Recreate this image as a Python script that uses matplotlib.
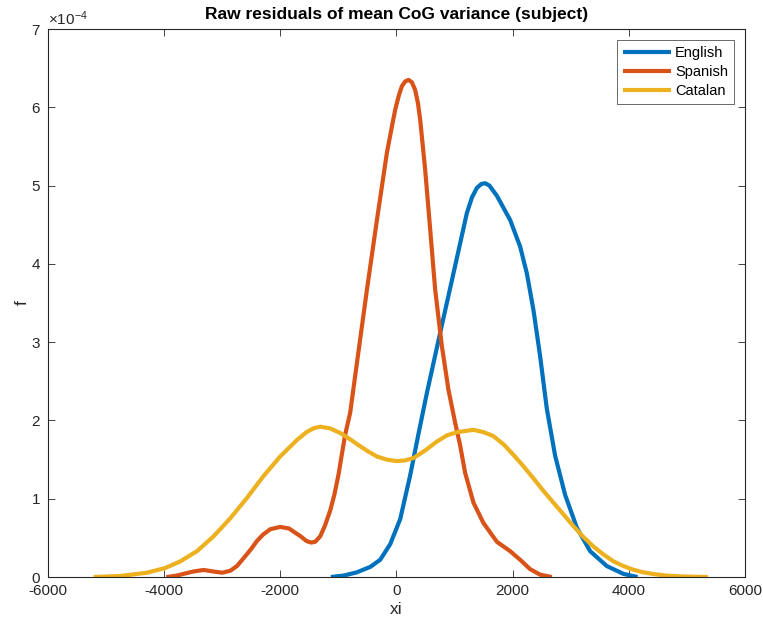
import matplotlib
matplotlib.use("Agg")
import matplotlib.pyplot as plt
from matplotlib.ticker import ScalarFormatter

plt.rcParams['font.family'] = ['Liberation Sans', 'DejaVu Sans']
plt.rcParams['mathtext.fontset'] = 'custom'
plt.rcParams['mathtext.rm'] = 'Liberation Sans'
plt.rcParams['mathtext.it'] = 'Liberation Sans:italic'
plt.rcParams['axes.unicode_minus'] = False

# English (blue) -- values of f in units of 1e-4
english_x = [-1130, -900, -682, -450, -281, -108, 64, 236, 379, 523, 752, 981, 1212, 1300, 1384,
             1460, 1527, 1600, 1728, 1957, 2129, 2244, 2358, 2473, 2588, 2731, 2903, 3105, 3334,
             3621, 3907, 4150]
english_f = [0.0, 0.02, 0.06, 0.13, 0.22, 0.42, 0.74, 1.30, 1.83, 2.35, 3.12, 3.88, 4.65, 4.85, 4.97,
             5.02, 5.03, 5.00, 4.87, 4.56, 4.22, 3.88, 3.41, 2.82, 2.15, 1.55, 1.05, 0.63, 0.33,
             0.14, 0.04, 0.0]
english_f = [v * 1e-4 for v in english_f]

# Spanish (orange)
spanish_x = [-3963, -3800, -3666, -3500, -3322, -3150, -3000, -2862, -2747, -2633, -2500, -2403,
             -2300, -2174, -2002, -1850, -1773, -1650, -1550, -1470, -1400, -1313, -1230, -1141,
             -1070, -998, -940, -883, -797, -682, -509, -337, -165, -80, -22, 40, 93, 150, 207, 265,
             322, 370, 408, 494, 580, 666, 781, 895, 1010, 1096, 1182, 1325, 1497, 1728, 1957, 2129,
             2301, 2473, 2674]
spanish_f = [0.0, 0.015, 0.04, 0.07, 0.09, 0.07, 0.055, 0.08, 0.14, 0.24, 0.36, 0.46,
             0.54, 0.61, 0.64, 0.62, 0.58, 0.52, 0.46, 0.44, 0.45, 0.52, 0.66, 0.85,
             1.05, 1.31, 1.57, 1.82, 2.10, 2.73, 3.67, 4.56, 5.42, 5.75, 5.97, 6.15, 6.27, 6.33, 6.35,
             6.32, 6.22, 6.05, 5.84, 5.20, 4.44, 3.67, 2.95, 2.39, 1.97, 1.68, 1.33, 0.95, 0.69, 0.45,
             0.33, 0.22, 0.10, 0.03, 0.0]
spanish_f = [v * 1e-4 for v in spanish_f]

# Catalan (yellow)
catalan_x = [-5215, -4755, -4296, -3981, -3722, -3435, -3149, -2862, -2575, -2289, -2002, -1714,
             -1550, -1428, -1313, -1150, -969, -800, -625, -480, -337, -170, 7, 150, 293, 500,
             695, 870, 1040, 1325, 1500, 1669, 1850, 2014, 2180, 2358, 2530, 2702, 2875, 3046,
             3220, 3390, 3560, 3735, 3907, 4079, 4250, 4423, 4650, 4882, 5360]
catalan_f = [0.0, 0.013, 0.055, 0.115, 0.20, 0.33, 0.52, 0.75, 1.01, 1.29, 1.54, 1.75,
             1.85, 1.90, 1.92, 1.90, 1.84, 1.76, 1.67, 1.60, 1.54, 1.50, 1.48, 1.49, 1.52, 1.62,
             1.73, 1.81, 1.85, 1.88, 1.85, 1.80, 1.69, 1.56, 1.42, 1.26, 1.10, 0.95, 0.80, 0.65,
             0.51, 0.39, 0.29, 0.20, 0.14, 0.093, 0.06, 0.038, 0.018, 0.008, 0.0]
catalan_f = [v * 1e-4 for v in catalan_f]

series_names = ['English', 'Spanish', 'Catalan']
colors = ['#0072BD', '#D95319', '#EDB120']

fig = plt.figure(figsize=(7.63, 6.24), dpi=100)
ax = fig.add_axes([0.0629, 0.0753, 0.9135, 0.8782])

for (xs, fs), name, c in zip([(english_x, english_f), (spanish_x, spanish_f), (catalan_x, catalan_f)],
                             series_names, colors):
    ax.plot(xs, fs, color=c, lw=3.0, label=name, solid_joinstyle='round', solid_capstyle='butt')

ax.set_xlim(-6000, 6000)
ax.set_ylim(0, 7e-4)
ax.set_xticks(range(-6000, 6001, 2000))
ax.set_yticks([i * 1e-4 for i in range(8)])

fmt = ScalarFormatter(useMathText=True)
fmt.set_powerlimits((0, 0))
ax.yaxis.set_major_formatter(fmt)

axcol = '#262626'
for s in ax.spines.values():
    s.set_color(axcol)
    s.set_linewidth(0.8)
ax.tick_params(direction='in', top=True, right=True, length=5, width=0.6,
               colors=axcol, labelsize=11, pad=5)
ax.yaxis.get_offset_text().set_fontsize(11)
ax.yaxis.get_offset_text().set_color(axcol)

ax.set_title('Raw residuals of mean CoG variance (subject)', fontsize=12.5, fontweight='bold',
             color='black', pad=7)
ax.set_xlabel('xi', fontsize=12.5, color=axcol, labelpad=3)
ax.set_ylabel('f', fontsize=12.5, color=axcol, labelpad=1)

leg = ax.legend(loc='upper right', fontsize=10.5, frameon=True, fancybox=False,
                edgecolor=axcol, handlelength=3.3, borderaxespad=0.75, labelspacing=0.35,
                handletextpad=0.3, borderpad=0.4)
leg.get_frame().set_linewidth(0.6)

fig.savefig('out.png', dpi=100)
